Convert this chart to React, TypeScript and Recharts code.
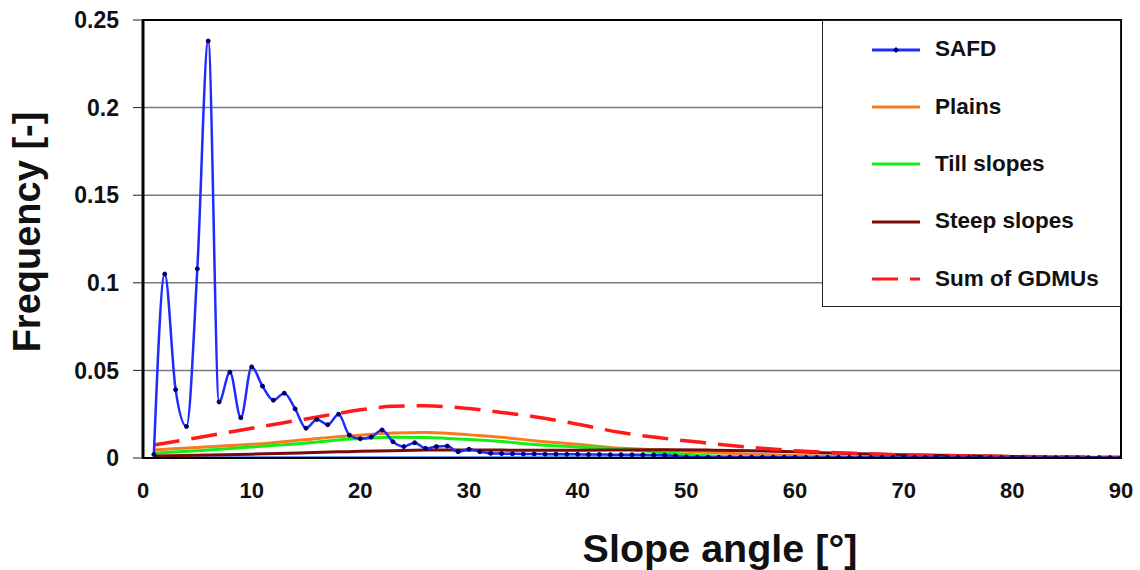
import React from 'react';
import { LineChart, Line, XAxis, YAxis, CartesianGrid, ReferenceArea, Legend, Label } from 'recharts';

// ---------- data ----------
const safdAngles = Array.from({ length: 90 }, (_, i) => i + 1);
const safdValues = [
  0.002, 0.105, 0.039, 0.018, 0.108, 0.238, 0.032, 0.049, 0.023, 0.052,
  0.041, 0.033, 0.037, 0.028, 0.017, 0.022, 0.019, 0.025, 0.013, 0.011,
  0.012, 0.016, 0.0093, 0.0065, 0.0087, 0.0055, 0.0065, 0.0068, 0.0036, 0.005,
  0.0036, 0.0027, 0.0025, 0.0024, 0.0023, 0.0023, 0.0022, 0.0022, 0.0021, 0.0021,
  0.002, 0.002, 0.0019, 0.0019, 0.0018, 0.0018, 0.0017, 0.0016, 0.0012, 0.0006,
  0.0004, 0.0004, 0.0004, 0.0004, 0.0004, 0.0004, 0.0004, 0.0004, 0.0004, 0.0004,
  0.0003, 0.0003, 0.0003, 0.0003, 0.0003, 0.0003, 0.0003, 0.0003, 0.0003, 0.0003,
  0.0003, 0.0003, 0.0003, 0.0003, 0.0003, 0.0002, 0.0002, 0.0002, 0.0002, 0.0002,
  0.0002, 0.0002, 0.0002, 0.0002, 0.0002, 0.0002, 0.0002, 0.0002, 0.0002, 0.0002,
];

const gdmuAngles = [1, 5, 10, 15, 18, 20, 23, 26, 28, 30, 33, 36, 40, 44, 48, 52, 56, 60, 65, 70, 75, 80, 85, 90];
const plainsValues = [
  0.0046, 0.006, 0.0078, 0.0105, 0.0122, 0.013, 0.0143, 0.0145, 0.0141, 0.0132, 0.0118, 0.0099,
  0.0078, 0.0055, 0.0045, 0.0032, 0.0022, 0.0014, 0.0007, 0.0003, 0.0002, 0.0001, 0, 0,
];
const tillValues = [
  0.0027, 0.0042, 0.0063, 0.0086, 0.0103, 0.011, 0.0118, 0.0117, 0.0112, 0.0106, 0.0094, 0.0077,
  0.0063, 0.0052, 0.003, 0.0013, 0.0005, 0.0002, 0.0001, 0, 0, 0, 0, 0,
];
const steepValues = [
  0.0011, 0.0015, 0.0022, 0.003, 0.0035, 0.0038, 0.0042, 0.0045, 0.0046, 0.0046, 0.0045, 0.0044,
  0.0044, 0.0046, 0.0047, 0.0045, 0.0041, 0.0035, 0.0026, 0.0019, 0.0014, 0.0009, 0.0005, 0.0002,
];
const sumValues = [
  0.0074, 0.0116, 0.017, 0.0223, 0.0255, 0.0275, 0.0295, 0.0298, 0.0293, 0.0282, 0.026, 0.0236,
  0.0193, 0.0145, 0.0112, 0.0085, 0.006, 0.0042, 0.0028, 0.0018, 0.0013, 0.0009, 0.0006, 0.0004,
];
const baselineAngles = [1, 90];
const baselineValues = [0, 0];

const xTicks = [0, 10, 20, 30, 40, 50, 60, 70, 80, 90];
const yTicks = [0, 0.05, 0.1, 0.15, 0.2, 0.25];

const legendItems = [
  { name: 'SAFD', color: '#1f2bff', dash: undefined as string | undefined, marker: true },
  { name: 'Plains', color: '#f97a1f', dash: undefined, marker: false },
  { name: 'Till slopes', color: '#14ee14', dash: undefined, marker: false },
  { name: 'Steep slopes', color: '#7a0a0a', dash: undefined, marker: false },
  { name: 'Sum of GDMUs', color: '#ff1a1a', dash: '26 12', marker: false },
];

const toPoints = (xs: number[], ys: number[]) => xs.map((x, i) => ({ x, y: ys[i] }));

const FONT = "'Liberation Sans', Arial, Helvetica, sans-serif";

const LegendBox = () => (
  <div
    style={{
      width: 299,
      height: 287,
      boxSizing: 'border-box',
      border: '1.5px solid #222',
      background: '#fff',
      fontFamily: FONT,
      fontWeight: 'bold',
      fontSize: 22.5,
      color: '#111',
      paddingTop: 0,
    }}
  >
    {legendItems.map((it) => (
      <div key={it.name} style={{ height: 57.3, display: 'flex', alignItems: 'center' }}>
        <svg width={112} height={20} style={{ flex: 'none' }}>
          <line
            x1={49}
            x2={97}
            y1={10}
            y2={10}
            stroke={it.color}
            strokeWidth={3}
            strokeDasharray={it.dash}
          />
          {it.marker && <path d="M73 7 L76 10 L73 13 L70 10 Z" fill="#000066" />}
        </svg>
        <span style={{ lineHeight: 1 }}>{it.name}</span>
      </div>
    ))}
  </div>
);

const XTitle = (props: any) => {
  const vb = props.viewBox || {};
  return (
    <text
      x={vb.x + vb.width / 2 + 88}
      y={vb.y + 90}
      textAnchor="middle"
      dominantBaseline="central"
      fontFamily={FONT}
      fontWeight="bold"
      fontSize={39.5}
      fill="#111"
    >
      Slope angle [°]
    </text>
  );
};

const YTitle = (props: any) => {
  const vb = props.viewBox || {};
  const cx = vb.x + 27;
  const cy = vb.y + vb.height / 2 - 7;
  return (
    <text
      x={cx}
      y={cy}
      transform={`rotate(-90, ${cx}, ${cy})`}
      textAnchor="middle"
      dominantBaseline="central"
      fontFamily={FONT}
      fontWeight="bold"
      fontSize={38}
      fill="#111"
    >
      Frequency [-]
    </text>
  );
};

export default function App() {
  return (
    <div style={{ position: 'absolute', left: 0, top: 0, width: 1140, height: 570, background: '#fff' }}>
      <LineChart width={1140} height={570} margin={{ top: 20, right: 19, left: 0, bottom: 0 }}>
        <CartesianGrid vertical={false} stroke="#7a7a7a" strokeWidth={1.5} />
        <XAxis
          type="number"
          dataKey="x"
          domain={[0, 90]}
          ticks={xTicks}
          allowDataOverflow
          height={112}
          tickLine={false}
          tickSize={0}
          tickMargin={24}
          axisLine={{ stroke: '#000', strokeWidth: 2 }}
          tick={{ fontFamily: FONT, fontWeight: 'bold', fontSize: 22, fill: '#111' }}
        >
          <Label content={<XTitle />} />
        </XAxis>
        <YAxis
          type="number"
          dataKey="y"
          domain={[0, 0.25]}
          ticks={yTicks}
          allowDataOverflow
          width={143}
          tickSize={10}
          tickMargin={14}
          tickLine={{ stroke: '#222', strokeWidth: 1 }}
          axisLine={{ stroke: '#000', strokeWidth: 3 }}
          tick={{ fontFamily: FONT, fontWeight: 'bold', fontSize: 23, fill: '#111' }}
        >
          <Label content={<YTitle />} />
        </YAxis>
        <ReferenceArea x1={0} x2={90} y1={0} y2={0.25} fill="none" stroke="#000" strokeWidth={2} ifOverflow="visible" />
        <Line
          data={toPoints(baselineAngles, baselineValues)}
          dataKey="y"
          type="linear"
          stroke="#3d7af5"
          strokeWidth={3.5}
          dot={false}
          isAnimationActive={false}
          legendType="none"
        />
        <Line
          data={toPoints(gdmuAngles, plainsValues)}
          dataKey="y"
          name="Plains"
          type="monotone"
          stroke="#f97a1f"
          strokeWidth={3}
          dot={false}
          isAnimationActive={false}
        />
        <Line
          data={toPoints(gdmuAngles, tillValues)}
          dataKey="y"
          name="Till slopes"
          type="monotone"
          stroke="#14ee14"
          strokeWidth={3}
          dot={false}
          isAnimationActive={false}
        />
        <Line
          data={toPoints(gdmuAngles, steepValues)}
          dataKey="y"
          name="Steep slopes"
          type="monotone"
          stroke="#7a0a0a"
          strokeWidth={3}
          dot={false}
          isAnimationActive={false}
        />
        <Line
          data={toPoints(gdmuAngles, sumValues)}
          dataKey="y"
          name="Sum of GDMUs"
          type="monotone"
          stroke="#ff1a1a"
          strokeWidth={3.5}
          strokeDasharray="26 12"
          dot={false}
          isAnimationActive={false}
        />
        <Line
          data={toPoints(safdAngles, safdValues)}
          dataKey="y"
          name="SAFD"
          type="monotone"
          stroke="#1f2bff"
          strokeWidth={2.5}
          dot={{ r: 2, fill: '#000066', stroke: '#000066', strokeWidth: 1 }}
          isAnimationActive={false}
        />
        <Legend
          layout="horizontal"
          verticalAlign="middle"
          align="center"
          content={<LegendBox />}
          wrapperStyle={{ position: 'absolute', left: 822, top: 20, width: 299, height: 287 }}
        />
      </LineChart>
    </div>
  );
}
